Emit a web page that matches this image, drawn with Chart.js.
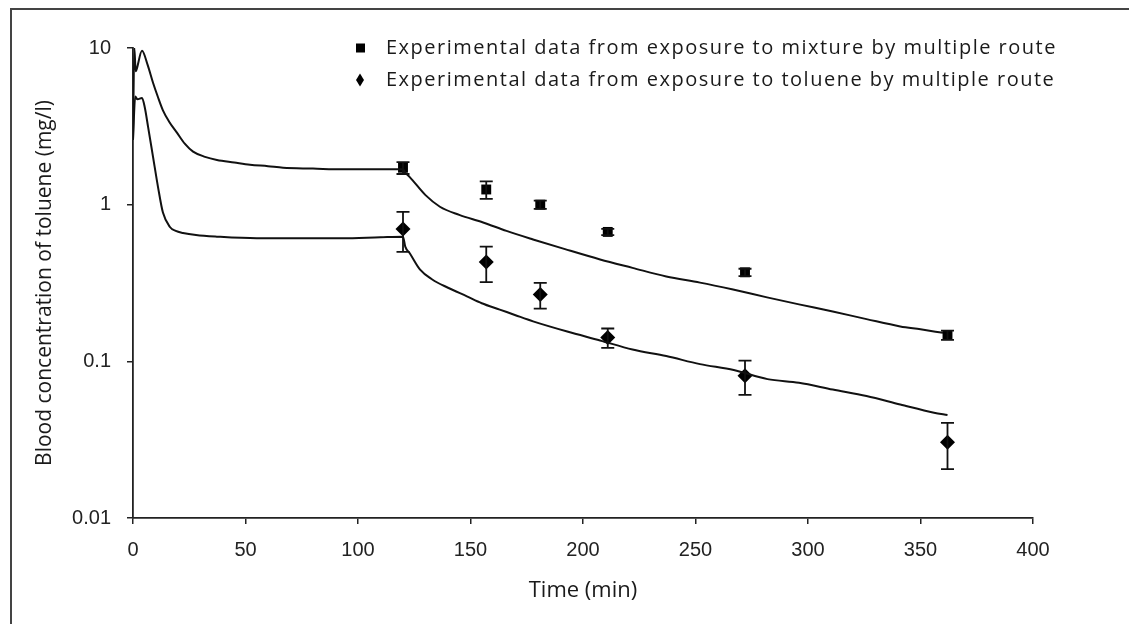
<!DOCTYPE html>
<html>
<head>
<meta charset="utf-8">
<script src="https://cdn.jsdelivr.net/npm/chart.js@4"></script>
<style>
  html, body { margin: 0; padding: 0; background: #fff; }
</style>
</head>
<body>
<canvas id="chart" width="1129" height="624"></canvas>
<script>
// model curves
const mixModelTime = [0, 0.6, 1.2, 1.6, 4, 6.5, 8.9, 11, 13.3, 16, 19.6, 23, 26.7, 32, 37.3, 45, 52, 60, 66.7, 80, 93, 105, 120,
  121, 123, 130, 136.4, 145, 155.6, 166, 177.8, 192, 207.6, 222, 237, 252, 266.7, 281.8, 296, 311, 326, 341, 350, 360];
const mixModelConc = [2.6, 10, 7.1, 7.3, 9.6, 7.8, 6.0, 4.9, 4.0, 3.4, 2.87, 2.45, 2.18, 2.02, 1.93, 1.86, 1.80, 1.76, 1.72, 1.70, 1.68, 1.68, 1.68,
  1.6, 1.5, 1.15, 0.97, 0.86, 0.77, 0.68, 0.60, 0.52, 0.447, 0.395, 0.348, 0.318, 0.287, 0.256, 0.231, 0.208, 0.186, 0.167, 0.16, 0.152];

const tolModelTime = [0, 1, 2, 4, 5.2, 6.7, 8.9, 11.1, 13.3, 16.4, 19, 22.2, 28, 37.3, 55, 75, 93, 110, 120,
  121, 123, 127.6, 133, 140, 148.4, 155, 163, 170, 177.8, 193, 207.6, 222, 237, 252, 267, 282, 296, 311, 326, 341, 356, 362];
const tolModelConc = [2.6, 4.9, 4.7, 4.8, 4.2, 3.14, 2.02, 1.30, 0.89, 0.72, 0.68, 0.66, 0.64, 0.625, 0.61, 0.61, 0.61, 0.62, 0.625,
  0.54, 0.49, 0.385, 0.333, 0.295, 0.26, 0.235, 0.214, 0.197, 0.18, 0.155, 0.136, 0.119, 0.108, 0.096, 0.088, 0.077, 0.073, 0.066, 0.060, 0.053, 0.047, 0.0455];

// experimental data
const expTime = [120, 157, 181, 211, 272, 362];
const mixExp = [1.72, 1.25, 1.0, 0.67, 0.37, 0.147];
const mixErr = [0.15, 0.16, 0.06, 0.03, 0.02, 0.01];
const tolExp = [0.70, 0.43, 0.267, 0.142, 0.081, 0.0305];
const tolErr = [0.2, 0.11, 0.05, 0.02, 0.02, 0.01];

const legendLabels = [
  "Experimental data from exposure to mixture by multiple route",
  "Experimental data from exposure to toluene by multiple route"
];
const xTicks = [0, 50, 100, 150, 200, 250, 300, 350, 400];
const yTicks = [0.01, 0.1, 1, 10];

const toXY = (xs, ys) => xs.map((x, i) => ({ x: x, y: ys[i] }));
const ink = "#111";

// white page + frame lines
const framePlugin = {
  id: "frame",
  beforeDraw(chart) {
    const c = chart.ctx;
    c.save();
    c.fillStyle = "#fff";
    c.fillRect(0, 0, chart.width, chart.height);
    c.strokeStyle = "#444";
    c.lineWidth = 2;
    c.beginPath();
    c.moveTo(11, chart.height);
    c.lineTo(11, 9);
    c.lineTo(chart.width, 9);
    c.stroke();
    c.restore();
  }
};

// vertical error bars
const errorBarPlugin = {
  id: "errbars",
  afterDatasetsDraw(chart) {
    const c = chart.ctx;
    const xs = chart.scales.x, ys = chart.scales.y;
    c.save();
    c.strokeStyle = ink;
    c.lineWidth = 1.8;
    chart.data.datasets.forEach(ds => {
      if (!ds.errors) return;
      ds.data.forEach((p, i) => {
        const e = ds.errors[i];
        const px = xs.getPixelForValue(p.x);
        const y1 = ys.getPixelForValue(p.y + e);
        const y2 = ys.getPixelForValue(p.y - e);
        c.beginPath();
        c.moveTo(px, y1); c.lineTo(px, y2);
        c.moveTo(px - 6.5, y1); c.lineTo(px + 6.5, y1);
        c.moveTo(px - 6.5, y2); c.lineTo(px + 6.5, y2);
        c.stroke();
      });
    });
    c.restore();
  }
};

// legend inside the plot, top right
const legendPlugin = {
  id: "boxlegend",
  afterDraw(chart) {
    const c = chart.ctx;
    c.save();
    c.font = "20px 'Open Sans'";
    if ("letterSpacing" in c) c.letterSpacing = "1.5px";
    c.textBaseline = "middle";
    c.textAlign = "left";
    const rows = [48, 80];
    legendLabels.forEach((t, i) => {
      const y = rows[i];
      c.fillStyle = "#000";
      if (i === 0) {
        c.fillRect(356, y - 4.5, 9, 9);
      } else {
        c.beginPath();
        c.moveTo(360, y - 6.5);
        c.lineTo(364, y);
        c.lineTo(360, y + 6.5);
        c.lineTo(356, y);
        c.closePath();
        c.fill();
      }
      c.fillStyle = "#1a1a1a";
      c.fillText(t, 386, y);
    });
    c.restore();
  }
};

new Chart(document.getElementById("chart"), {
  type: "scatter",
  data: {
    datasets: [
      {
        label: "mixture model",
        type: "line",
        data: toXY(mixModelTime, mixModelConc),
        borderColor: ink,
        borderWidth: 2,
        pointRadius: 0,
        cubicInterpolationMode: "monotone",
        fill: false
      },
      {
        label: "toluene model",
        type: "line",
        data: toXY(tolModelTime, tolModelConc),
        borderColor: ink,
        borderWidth: 2,
        pointRadius: 0,
        cubicInterpolationMode: "monotone",
        fill: false
      },
      {
        label: legendLabels[0],
        data: toXY(expTime, mixExp),
        errors: mixErr,
        pointStyle: "rect",
        pointRadius: 7,
        backgroundColor: "#000",
        borderColor: "#000",
        borderWidth: 0
      },
      {
        label: legendLabels[1],
        data: toXY(expTime, tolExp),
        errors: tolErr,
        pointStyle: "rectRot",
        pointRadius: 7.5,
        backgroundColor: "#000",
        borderColor: "#000",
        borderWidth: 0
      }
    ]
  },
  options: {
    responsive: false,
    animation: false,
    layout: { padding: { left: 0, right: 96, top: 48, bottom: 0 } },
    scales: {
      x: {
        type: "linear",
        min: 0,
        max: 400,
        afterFit: s => { s.height = 106; },
        afterBuildTicks: s => { s.ticks = xTicks.map(v => ({ value: v })); },
        grid: { drawOnChartArea: false, drawTicks: true, tickLength: 6, color: "#222", lineWidth: 1.5 },
        border: { display: true, color: "#222", width: 1.8 },
        ticks: { color: "#222", padding: 14, font: { family: "'Liberation Sans', Arial", size: 20 }, maxRotation: 0 },
        title: { display: true, text: "Time (min)", color: "#1a1a1a", font: { family: "'Open Sans'", size: 22 }, padding: { bottom: 20 } }
      },
      y: {
        type: "logarithmic",
        min: 0.01,
        max: 10,
        afterFit: s => { s.width = 133; },
        afterBuildTicks: s => { s.ticks = yTicks.map(v => ({ value: v })); },
        grid: { drawOnChartArea: false, drawTicks: true, tickLength: 6, color: "#222", lineWidth: 1.5 },
        border: { display: true, color: "#222", width: 1.8 },
        ticks: { color: "#222", padding: 16, font: { family: "'Liberation Sans', Arial", size: 20 }, callback: v => String(v) },
        title: { display: true, text: "Blood concentration of toluene (mg/l)", color: "#1a1a1a", font: { family: "'Open Sans'", size: 21 }, padding: { top: 32 } }
      }
    },
    plugins: {
      legend: { display: false },
      tooltip: { enabled: false }
    }
  },
  plugins: [framePlugin, errorBarPlugin, legendPlugin]
});
</script>
</body>
</html>
